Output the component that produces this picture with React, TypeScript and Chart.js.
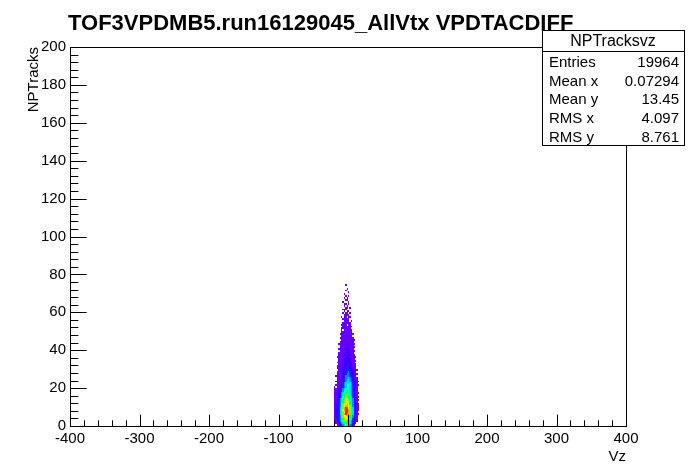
import React, { useEffect, useRef } from "react";
import { Chart, registerables } from "chart.js";

Chart.register(...registerables);

const TITLE = "TOF3VPDMB5.run16129045_AllVtx VPDTACDIFF";
const X_TITLE = "Vz";
const Y_TITLE = "NPTracks";
const X_MIN = -400;
const X_MAX = 400;
const Y_MIN = 0;
const Y_MAX = 200;
const X_MAJOR = [-400, -300, -200, -100, 0, 100, 200, 300, 400];
const Y_MAJOR = [0, 20, 40, 60, 80, 100, 120, 140, 160, 180, 200];
const X_MINOR_STEP = 20;
const Y_MINOR_STEP = 4;

const STATS_NAME = "NPTracksvz";
const STATS_LABELS = ["Entries", "Mean x", "Mean y", "RMS x", "RMS y"];
const STATS_VALUES = ["19964", "0.07294", "13.45", "4.097", "8.761"];

// 2D histogram cells: x bin lower edges (width 2), y bin lower edges (height 1, top row first)
const X_BIN_LOW = [-22, -20, -18, -16, -14, -12, -10, -8, -6, -4, -2, 0, 2, 4, 6, 8, 10, 12, 14, 16];
const X_BIN_WIDTH = 2;
const Y_BIN_LOW = [
  74, 73, 72, 71, 70, 69, 68, 67, 66, 65, 64, 63, 62, 61, 60, 59, 58, 57, 56, 55,
  54, 53, 52, 51, 50, 49, 48, 47, 46, 45, 44, 43, 42, 41, 40, 39, 38, 37, 36, 35,
  34, 33, 32, 31, 30, 29, 28, 27, 26, 25, 24, 23, 22, 21, 20, 19, 18, 17, 16, 15,
  14, 13, 12, 11, 10, 9, 8, 7, 6, 5, 4, 3, 2, 1, 0,
];
const Y_BIN_HEIGHT = 1;
// colour level per cell (0 = empty, 1..b = palette index), one string per y bin
const LEVEL_ROWS = [
  "00000000010000000000",
  "00000000000000000000",
  "00000000001000000000",
  "00000000010000000000",
  "00000000000100000000",
  "00000000100000000000",
  "00000000010100000000",
  "00000000101000000000",
  "00000000011000000000",
  "00000001000100000000",
  "00000000110100000000",
  "00000000101000000000",
  "00000000011010000000",
  "00000001110000000000",
  "00000000101100000000",
  "00000001011010000000",
  "00000000111100000000",
  "00000010110110000000",
  "00000001111100000000",
  "00000000111101000000",
  "00000001111110000000",
  "00000011110110000000",
  "00000001111111000000",
  "00000011111110000000",
  "00000010111111000000",
  "00000011111111000000",
  "00000111111111100000",
  "00000011111111000000",
  "00000111111111100000",
  "00000011111111110000",
  "00000111111111100000",
  "00001111111211110000",
  "00000111111111100000",
  "00000111112111110000",
  "00001111121211100000",
  "00000111112211110000",
  "00001111122211100000",
  "00001111212221110000",
  "00011111122211111000",
  "00001111222221110000",
  "00001111222221111000",
  "00011112222322110000",
  "00001111223222111000",
  "00011112223322111000",
  "00011112233322111000",
  "00001112233332211100",
  "00011112233432211000",
  "00011122234432211100",
  "00111122344432221000",
  "00011122344543211100",
  "00011122345543221100",
  "00111123345543221110",
  "00011123455554322100",
  "00111223456654322110",
  "01011223456654322100",
  "01112234567654321100",
  "01112334677654321100",
  "01122345677654321110",
  "01122345788764321100",
  "01122346788765321110",
  "01123456899765421100",
  "01123457899865421110",
  "01123457899975421100",
  "0122346899a976432110",
  "012234689aa986432110",
  "01223568abb986532110",
  "01223569abba86532110",
  "012235689bba86532100",
  "01223568abaa86532110",
  "0122346899a976421100",
  "01223468999876421100",
  "01123457898765321100",
  "01123456887654321100",
  "00112345677654321000",
  "00011234566543210000",
];
const PALETTE = [
  "#ffffff",
  "#6600ff",
  "#3c00ff",
  "#0a28ff",
  "#0090ff",
  "#00d8ff",
  "#00ffc0",
  "#00ff60",
  "#70ff00",
  "#e0ff00",
  "#ffa000",
  "#ff2000",
];

const FONT = "'Liberation Sans', Arial, Helvetica, sans-serif";

const rootPlugin = {
  id: "rootHist",
  beforeDatasetsDraw(chart: any) {
    const { ctx, scales } = chart;
    const xs = scales.x;
    const ys = scales.y;
    ctx.save();
    LEVEL_ROWS.forEach((row: string, r: number) => {
      const yLow = Y_BIN_LOW[r];
      for (let c = 0; c < row.length && c < X_BIN_LOW.length; c++) {
        const lvl = parseInt(row[c], 16);
        if (!lvl) continue;
        const xl = X_BIN_LOW[c];
        const px0 = Math.round(xs.getPixelForValue(xl));
        const px1 = Math.round(xs.getPixelForValue(xl + X_BIN_WIDTH));
        const py0 = Math.round(ys.getPixelForValue(yLow));
        const py1 = Math.round(ys.getPixelForValue(yLow + Y_BIN_HEIGHT));
        ctx.fillStyle = PALETTE[lvl];
        ctx.fillRect(px0, py1, Math.max(1, px1 - px0), Math.max(1, py0 - py1));
      }
    });
    ctx.restore();
  },
  afterDraw(chart: any) {
    const { ctx, chartArea, scales } = chart;
    const xs = scales.x;
    const ys = scales.y;
    const { left, right, top, bottom } = chartArea;
    const w = right - left;
    const h = bottom - top;
    ctx.save();
    ctx.strokeStyle = "#000";
    ctx.lineWidth = 1;
    ctx.strokeRect(Math.round(left) + 0.5, Math.round(top) + 0.5, Math.round(w), Math.round(h));
    ctx.beginPath();
    for (let v = X_MIN; v <= X_MAX; v += X_MINOR_STEP) {
      const px = Math.round(xs.getPixelForValue(v)) + 0.5;
      const len = X_MAJOR.includes(v) ? h * 0.03 : h * 0.015;
      ctx.moveTo(px, bottom);
      ctx.lineTo(px, bottom - len);
    }
    for (let v = Y_MIN; v <= Y_MAX; v += Y_MINOR_STEP) {
      const py = Math.round(ys.getPixelForValue(v)) + 0.5;
      const len = Y_MAJOR.includes(v) ? w * 0.03 : w * 0.015;
      ctx.moveTo(left, py);
      ctx.lineTo(left + len, py);
    }
    ctx.stroke();

    ctx.fillStyle = "#000";
    ctx.font = `bold 22px ${FONT}`;
    ctx.textAlign = "left";
    ctx.textBaseline = "alphabetic";
    ctx.fillText(TITLE, 68, 30);

    ctx.font = `15px ${FONT}`;
    ctx.textAlign = "right";
    ctx.fillText(X_TITLE, right, 461);
    ctx.save();
    ctx.translate(38, top);
    ctx.rotate(-Math.PI / 2);
    ctx.textAlign = "right";
    ctx.fillText(Y_TITLE, 0, 0);
    ctx.restore();

    const bx = 542, by = 30, bw = 142, hh = 21, bh = 115;
    ctx.fillStyle = "#fff";
    ctx.fillRect(bx, by, bw, bh);
    ctx.strokeStyle = "#000";
    ctx.strokeRect(bx + 0.5, by + 0.5, bw, bh);
    ctx.beginPath();
    ctx.moveTo(bx, by + hh + 0.5);
    ctx.lineTo(bx + bw, by + hh + 0.5);
    ctx.stroke();
    ctx.fillStyle = "#000";
    ctx.font = `16px ${FONT}`;
    ctx.textAlign = "center";
    ctx.fillText(STATS_NAME, bx + bw / 2, by + 16);
    ctx.font = `15px ${FONT}`;
    STATS_LABELS.forEach((lab, i) => {
      const yy = by + hh + 16 + i * 18.7;
      ctx.textAlign = "left";
      ctx.fillText(lab, bx + 7, yy);
      ctx.textAlign = "right";
      ctx.fillText(STATS_VALUES[i], bx + bw - 5, yy);
    });
    ctx.restore();
  },
};

export default function App() {
  const ref = useRef<HTMLCanvasElement | null>(null);
  useEffect(() => {
    if (!ref.current) return;
    const chart = new Chart(ref.current, {
      type: "scatter",
      data: { datasets: [{ data: [], pointRadius: 0 }] },
      options: {
        animation: false,
        responsive: false,
        layout: { padding: { left: 0, top: 47, right: 70, bottom: 0 } },
        plugins: { legend: { display: false }, tooltip: { enabled: false }, title: { display: false } },
        scales: {
          x: {
            type: "linear",
            min: X_MIN,
            max: X_MAX,
            afterFit: (s: any) => { s.height = 48; },
            afterBuildTicks: (s: any) => { s.ticks = X_MAJOR.map((v) => ({ value: v })); },
            grid: { display: false, drawTicks: false },
            border: { display: false },
            ticks: { padding: 4, autoSkip: false, maxRotation: 0, color: "#000", font: { family: FONT, size: 15 } },
          },
          y: {
            type: "linear",
            min: Y_MIN,
            max: Y_MAX,
            afterFit: (s: any) => { s.width = 70; },
            afterBuildTicks: (s: any) => { s.ticks = Y_MAJOR.map((v) => ({ value: v })); },
            grid: { display: false, drawTicks: false },
            border: { display: false },
            ticks: { padding: 4, autoSkip: false, color: "#000", font: { family: FONT, size: 15 } },
          },
        },
      },
      plugins: [rootPlugin],
    });
    return () => chart.destroy();
  }, []);
  return (
    <div style={{ position: "fixed", left: 0, top: 0, width: 696, height: 474, background: "#fff" }}>
      <canvas ref={ref} width={696} height={474} style={{ display: "block" }} />
    </div>
  );
}
